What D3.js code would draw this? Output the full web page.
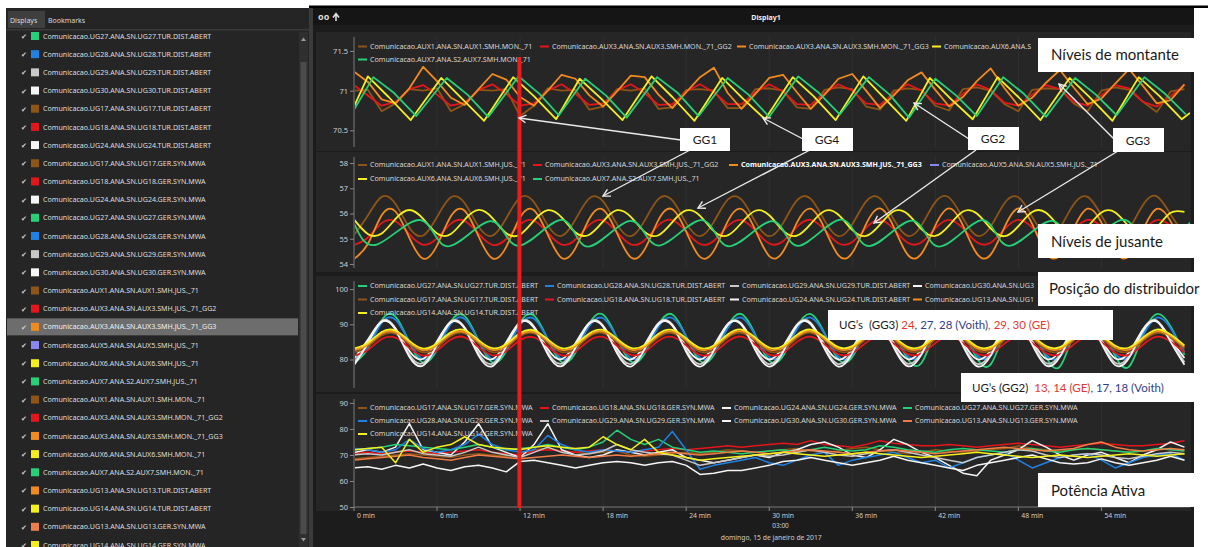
<!DOCTYPE html>
<html><head><meta charset="utf-8">
<script src="https://cdn.jsdelivr.net/npm/d3@7"></script>
<style>html,body{margin:0;padding:0;background:#fff;}svg{display:block;}</style>
</head><body>
<svg id="c" width="1208" height="547"></svg>
<script>
// ---------------- DATA ----------------
const minutes = [0,1,2,3,4,5,6,7,8,9,10,11,12,13,14,15,16,17,18,19,20,21,22,23,24,25,26,27,28,29,30,31,32,33,34,35,36,37,38,39,40,41,42,43,44,45,46,47,48,49,50,51,52,53,54,55,56,57,58,59,60];
const xTickMinutes = [0,6,12,18,24,30,36,42,48,54];
const cursorMinute = [11.95];

// Panel 1 - Níveis de montante
const monAux1 = [71.0,71.01,70.74,70.84,71.02,71.0,71.03,70.74,70.83,71.01,71.0,71.02,70.68,70.81,71.03,71.0,71.01,70.76,70.80,71.02,71.0,71.03,70.77,70.79,71.01,71.02,71.0,70.78,70.78,71.02,71.03,71.0,70.79,70.77,71.01,71.04,71.02,70.80,70.76,71.0,71.03,71.01,70.81,70.75,71.02,71.04,71.0,70.83,70.74,71.01,71.03,71.02,70.84,70.74,71.0,71.04,71.01,70.86,70.73,70.99,71.02];
const monAux3GG2 = [71.07,70.94,70.81,70.86,71.02,71.07,70.95,70.81,70.85,71.01,71.08,70.96,70.81,70.84,71.0,71.08,70.96,70.82,70.84,71.0,71.08,70.97,70.82,70.83,70.99,71.08,70.98,70.83,70.83,70.98,71.08,70.99,70.83,70.82,70.97,71.08,71.0,70.84,70.82,70.96,71.08,71.0,70.84,70.81,70.96,71.08,71.01,70.85,70.81,70.95,71.07,71.02,70.86,70.81,70.94,71.07,71.03,70.86,70.8,70.93,71.07];
const monAux3GG3 = [71.24,71.11,70.89,70.84,71.03,71.30,71.12,70.91,70.82,71.02,71.21,71.14,70.92,70.81,71.0,71.20,71.15,70.94,70.80,70.99,71.19,71.17,70.95,70.78,70.98,71.17,71.29,70.97,70.77,70.96,71.16,71.20,70.98,70.77,70.95,71.15,71.21,71.0,70.78,70.94,71.13,71.23,71.01,70.80,70.92,71.12,71.28,71.03,70.81,70.91,71.10,71.26,71.04,70.83,70.90,71.09,71.27,71.06,70.84,70.88,71.08];
const monAux6T = [0,1.0,2.5,4.1,6.3,7.8,9.4,11.5,13.0,14.6,16.3,17.8,19.4,21.5,23.0,24.6,26.6,28.1,29.7,31.7,33.2,34.8,36.8,38.3,39.9,41.6,43.1,44.7,46.5,48.0,49.6,51.7,53.2,54.8,56.7,58.2,59.8,60.4];
const monAux6V = [70.80,71.18,70.92,70.63,71.16,70.90,70.62,71.17,70.93,70.64,71.15,70.91,70.63,71.18,70.92,70.62,71.16,70.90,70.64,71.17,70.93,70.63,71.18,70.91,70.62,71.16,70.90,70.64,71.17,70.92,70.63,71.16,70.91,70.62,71.17,70.93,70.64,70.72];
const monAux7T = [0,1.4,2.9,4.5,6.7,8.2,9.7,11.9,13.4,14.8,16.7,18.2,19.7,21.9,23.4,24.9,27.0,28.5,30.0,32.1,33.6,35.1,37.2,38.7,40.1,42.0,43.5,45.0,46.9,48.4,50.0,52.1,53.6,55.1,57.1,58.6,60.1];
const monAux7V = [70.76,71.17,70.97,70.68,71.16,70.95,70.67,71.18,70.96,70.69,71.15,70.94,70.66,71.17,70.97,70.68,71.16,70.95,70.67,71.18,70.97,70.70,71.17,70.95,70.66,71.15,70.94,70.68,71.17,70.96,70.67,71.16,70.95,70.69,71.17,70.96,70.70];

// Panel 2 - Níveis de jusante
const jusAux1 = [55.15,55.92,56.66,56.38,55.44,55.13,55.86,56.64,56.41,55.48,55.12,55.81,56.63,56.45,55.53,55.11,55.76,56.6,56.48,55.57,55.1,55.72,56.58,56.52,55.62,55.1,55.67,56.55,56.55,55.67,55.1,55.62,56.52,56.58,55.72,55.1,55.57,56.48,56.6,55.76,55.11,55.53,56.45,56.63,55.81,55.12,55.48,56.41,56.64,55.87,55.13,55.44,56.37,56.66,55.92,55.15,55.4,56.34,56.68,55.96,55.16];
const jusAux3GG2 = [54.75,55.05,55.62,55.69,55.17,54.76,55.02,55.6,55.71,55.2,54.76,54.99,55.57,55.72,55.23,54.77,54.97,55.55,55.73,55.26,54.78,54.94,55.53,55.74,55.29,54.79,54.92,55.5,55.74,55.32,54.81,54.9,55.47,55.75,55.35,54.82,54.87,55.44,55.75,55.38,54.84,54.86,55.41,55.75,55.41,54.86,54.84,55.38,55.75,55.44,54.87,54.82,55.35,55.75,55.47,54.9,54.81,55.32,55.74,55.5,54.92];
const jusAux3GG3 = [54.2,54.79,55.93,56.08,55.03,54.21,54.74,55.89,56.11,55.09,54.22,54.68,55.84,56.13,55.16,54.24,54.63,55.79,56.15,55.22,54.26,54.58,55.75,56.17,55.28,54.28,54.53,55.69,56.18,55.34,54.31,54.49,55.64,56.19,55.4,54.34,54.44,55.58,56.2,55.46,54.37,54.41,55.52,56.2,55.52,54.41,54.37,55.46,56.2,55.58,54.44,54.34,55.4,56.19,55.64,54.49,54.31,55.34,56.18,55.69,54.53];
const jusAux5 = [];
const jusAux6 = [55.76,55.19,55.21,55.79,56.14,55.79,55.21,55.19,55.76,56.14,55.82,55.22,55.17,55.72,56.13,55.85,55.25,55.16,55.69,56.13,55.87,55.27,55.14,55.66,56.12,55.91,55.3,55.13,55.63,56.11,55.93,55.32,55.12,55.59,56.1,55.95,55.35,55.11,55.56,56.09,55.98,55.38,55.11,55.53,56.08,56.0,55.41,55.1,55.5,56.06,56.03,55.44,55.1,55.47,56.04,56.04,55.47,55.1,55.44,56.03,56.06];
const jusAux7T = [0,1.7,4.8,6.8,9.9,11.9,15.0,16.9,20.0,22.0,25.1,27.1,30.2,32.1,35.2,37.2,40.3,42.3,45.4,47.3,50.4,52.4,55.5,57.5,60.6];
const jusAux7V = [55.62,54.78,55.74,54.70,55.70,54.72,55.75,54.69,55.71,54.73,55.74,54.70,55.70,54.72,55.76,54.71,55.72,54.69,55.74,54.72,55.71,54.70,55.75,54.73,55.72];

// Panel 3 - Posição do distribuidor
const turUG27 = [79.0,83.1,91.1,92.2,84.8,79.1,82.8,90.8,92.3,85.3,79.2,82.4,90.5,92.5,85.7,79.3,82.0,90.2,92.7,86.1,79.4,81.7,89.8,92.8,86.5,79.6,81.3,89.4,92.9,87.0,79.7,81.0,89.1,92.9,87.4,80.0,80.7,88.7,93.0,87.8,80.2,79.0,88.2,93.0,88.2,80.4,78.6,87.8,93.0,88.7,80.7,78.0,87.4,92.9,89.1,81.0,78.0,87.0,92.9,89.4,81.3];
const turUG28 = [80.0,83.5,90.4,91.3,85.0,80.1,83.2,90.1,91.5,85.3,80.1,82.9,89.8,91.6,85.8,80.2,82.6,89.5,91.7,86.1,80.4,82.3,89.3,91.8,86.5,80.5,82.0,88.9,91.9,86.8,80.7,81.7,88.6,91.9,87.2,80.8,81.4,88.3,92.0,87.6,81.0,81.3,87.9,92.0,87.9,81.3,81.0,87.6,92.0,88.3,81.4,80.8,87.2,91.9,88.6,81.7,80.7,86.8,91.9,88.9,82.0];
const turUG29 = [79.1,85.1,91.0,88.8,81.4,79.0,84.7,90.9,89.0,81.7,78.8,84.3,90.7,89.4,82.1,78.8,83.9,90.5,89.6,82.4,78.7,83.6,90.4,89.9,82.8,78.7,83.2,90.1,90.1,83.2,78.7,82.8,89.9,90.4,83.6,78.7,82.4,89.6,90.5,83.9,78.8,82.1,89.4,90.7,84.3,78.8,81.7,89.0,90.9,84.8,79.0,81.4,88.7,91.0,85.1,79.1,81.1,88.5,91.1,85.5,79.2];
const turUG30 = [80.3,85.6,90.7,88.8,82.4,80.2,85.2,90.6,89.0,82.6,80.1,84.9,90.5,89.3,83.0,80.1,84.6,90.3,89.5,83.2,80.0,84.2,90.2,89.8,83.6,80.0,83.9,90.0,90.0,83.9,80.0,83.6,89.8,90.2,84.2,80.0,83.2,89.5,90.3,84.6,80.1,83.0,89.3,90.5,84.9,80.1,82.6,89.0,90.6,85.3,80.2,82.4,88.8,90.7,85.6,80.3,82.1,88.5,90.8,85.9,80.4];
const turUG17 = [82.0,83.7,86.8,87.3,84.3,82.0,83.5,86.7,87.4,84.5,82.1,83.3,86.6,87.4,84.7,82.1,83.2,86.5,87.5,84.9,82.2,83.1,86.3,87.5,85.0,82.2,82.9,86.2,87.5,85.2,82.3,82.8,86.0,87.6,85.4,82.4,82.7,85.9,87.6,85.5,82.5,82.6,85.7,87.6,85.7,82.6,82.5,85.5,87.6,85.9,82.7,82.4,85.4,87.6,86.0,82.8,82.3,85.2,87.5,86.2,82.9];
const turUG18 = [81.1,82.7,85.8,86.2,83.3,81.1,82.6,85.7,86.3,83.5,81.2,82.4,85.5,86.3,83.7,81.2,82.3,85.4,86.4,83.9,81.3,82.1,85.3,86.4,84.0,81.3,82.0,85.1,86.5,84.2,81.4,81.9,85.0,86.5,84.3,81.5,81.8,84.8,86.5,84.5,81.6,81.7,84.7,86.5,84.7,81.7,81.6,84.5,86.5,84.8,81.8,81.5,84.3,86.5,85.0,81.9,81.4,84.2,86.5,85.1,82.0];
const turUG24 = [78.4,84.6,90.7,88.4,80.8,78.3,84.2,90.6,88.7,81.1,78.1,83.8,90.4,89.0,81.5,78.1,83.4,90.2,89.3,81.8,78.0,83.0,90.0,89.6,82.2,78.0,82.6,89.8,89.8,82.6,78.0,82.2,89.6,90.0,83.0,78.0,81.8,89.3,90.2,83.4,78.1,81.5,89.0,90.4,83.8,78.1,81.1,88.7,90.6,84.2,78.3,80.8,88.3,90.7,84.6,78.4,80.5,88.1,90.8,85.0,78.5];
const turUG13 = [82.6,84.2,87.3,87.7,84.8,82.6,84.1,87.2,87.8,85.0,82.7,83.9,87.0,87.8,85.2,82.7,83.8,86.9,87.9,85.4,82.8,83.6,86.8,87.9,85.5,82.8,83.5,86.6,88.0,85.7,82.9,83.4,86.5,88.0,85.8,83.0,83.3,86.3,88.0,86.0,83.1,83.2,86.2,88.0,86.2,83.2,83.1,86.0,88.0,86.3,83.3,83.0,85.8,88.0,86.5,83.4,82.9,85.7,88.0,86.6,83.5];
const turUG14 = [83.1,84.7,87.8,88.2,85.3,83.1,84.6,87.7,88.3,85.5,83.2,84.4,87.5,88.3,85.7,83.2,84.3,87.4,88.4,85.9,83.3,84.1,87.3,88.4,86.0,83.3,84.0,87.1,88.5,86.2,83.4,83.9,87.0,88.5,86.3,83.5,83.8,86.8,88.5,86.5,83.6,83.7,86.7,88.5,86.7,83.7,83.6,86.5,88.5,86.8,83.8,83.5,86.3,88.5,87.0,83.9,83.4,86.2,88.5,87.1,84.0];

// Panel 4 - Potência Ativa
const gerUG17 = [68.5,69,69.5,70,70.5,70,69.5,69,70,70.5,70,69.5,70.5,72,72.5,71.5,71,70.5,71,71.5,70,69.5,70,70.5,71,70.5,71,72,71.5,71,71.5,72,72.5,71.5,71,71.5,72.5,73,72,71,70.5,71,72,71.5,71,71.5,72,72.5,73.5,72.5,72,71.5,72,72.5,72,71.5,71,71.5,72,72.5,71.5];
const gerUG18 = [70.5,71,70.5,71,71.5,71,70.5,71,71.5,72,71,70.5,70,71.5,72,71.5,71,71.5,72,71.5,71,71.5,72,72.5,72,72.5,73,73.5,73,73.5,74,74.5,74,75.5,74,73.5,73,74,75.5,74.5,74,73.5,73.5,74,73.5,73,73.5,74,74.5,74,73.5,73,73.5,74,74.5,74,73.5,73.5,74,74.5,75.5];
const gerUG24 = [71,72,71,73,82,72,71,70,75,82,73,71,69,74,82,72,70,69,70,72,71,70,71,72,69,68,67,68,69,70,69,71,72,74,75,73,70,69,72,76,74,71,69,66,63,62,68,70,72,75.5,73,70,68,70,71,69,67,70,72,75,73];
const gerUG27 = [72,72.5,73,74,73.5,73,72.5,72,73,74,73,72,72.5,73,74,73,72,73,75,79.5,76,74,76,73,72,71,71.5,71,70.5,71,71.5,72,71,72,73,72,71.5,72,73.5,73,72,71.5,71,72,72.5,72,71.5,71,72,72.5,71.5,71,72,72.5,72,71.5,71,71.5,72.5,72,71.5];
const gerUG28 = [72.5,72,71,72,76,72.5,71,72,74,78,74,72,71,72,77.5,74,72,71,72,71.5,71,72,73,79,72,64.5,66,67,68,69,67,66,68,70,71,66,68,69,70,71,69,67,68,65,67,69,70,71,68,65,67,69,70,70.5,68,65,67,69,70,70.5,68];
const gerUG29 = [70,70.5,70,71,72,70.5,70,69.5,71,73,71,70,69,71,73,71,70,70.5,71.5,74,72,71,70.5,70,68,66,67,68,69,70,69.5,70,71,72,71,70,69.5,70.5,71.5,72,71,70,69,68,67,69,70,71,72,71.5,70,69,70,70.5,70,69,68.5,69.5,70.5,71,70.5];
const gerUG30 = [65,65.5,64.5,66,65,66.5,65,64,65.5,66,65,63.5,67.5,68,67,66,65,66,67,67.5,67,66,67,67.5,66,62.5,63,64,64,65,66,67.5,68,69,68,67,66,67,68,69.5,68,67,66,65,64,66,67,68,69,70,68.5,67,66.5,67,68.5,67,66,67,68,69.5,68];
const gerUG13 = [68,68.5,69,69.5,70,69,68.5,68,69,70,69.5,69,68.5,69,69.5,70,69.5,69,69.5,70,69.5,70,70.5,71,70.5,70,70.5,71,71.5,71,70.5,71,71.5,72,71.5,71,70.5,71,71.5,72,71.5,71,70.5,71,71.5,72,72.5,73,72.5,72,71.5,72,72.5,74,75,73,72,71.5,72,72.5,72];
const gerUG14 = [72,72.5,73,67,76,71,73,74,77,74,73,72.5,72,73,73.5,73,72.5,73,77,74,72,76,71,70,69,68,68.5,69,69.5,70,70.5,71,70.5,70,69.5,70,70.5,71,70.5,70,69.5,69,69.5,70,70.5,71,70.5,70,69.5,69,69.5,70,69.5,69,69.5,70,70.5,70,69.5,70,70.5];

const listNames = [
"Comunicacao.UG27.ANA.SN.UG27.TUR.DIST.ABERT","Comunicacao.UG28.ANA.SN.UG28.TUR.DIST.ABERT",
"Comunicacao.UG29.ANA.SN.UG29.TUR.DIST.ABERT","Comunicacao.UG30.ANA.SN.UG30.TUR.DIST.ABERT",
"Comunicacao.UG17.ANA.SN.UG17.TUR.DIST.ABERT","Comunicacao.UG18.ANA.SN.UG18.TUR.DIST.ABERT",
"Comunicacao.UG24.ANA.SN.UG24.TUR.DIST.ABERT","Comunicacao.UG17.ANA.SN.UG17.GER.SYN.MWA",
"Comunicacao.UG18.ANA.SN.UG18.GER.SYN.MWA","Comunicacao.UG24.ANA.SN.UG24.GER.SYN.MWA",
"Comunicacao.UG27.ANA.SN.UG27.GER.SYN.MWA","Comunicacao.UG28.ANA.SN.UG28.GER.SYN.MWA",
"Comunicacao.UG29.ANA.SN.UG29.GER.SYN.MWA","Comunicacao.UG30.ANA.SN.UG30.GER.SYN.MWA",
"Comunicacao.AUX1.ANA.SN.AUX1.SMH.JUS._71","Comunicacao.AUX3.ANA.SN.AUX3.SMH.JUS._71_GG2",
"Comunicacao.AUX3.ANA.SN.AUX3.SMH.JUS._71_GG3","Comunicacao.AUX5.ANA.SN.AUX5.SMH.JUS._71",
"Comunicacao.AUX6.ANA.SN.AUX6.SMH.JUS._71","Comunicacao.AUX7.ANA.S2.AUX7.SMH.JUS._71",
"Comunicacao.AUX1.ANA.SN.AUX1.SMH.MON._71","Comunicacao.AUX3.ANA.SN.AUX3.SMH.MON._71_GG2",
"Comunicacao.AUX3.ANA.SN.AUX3.SMH.MON._71_GG3","Comunicacao.AUX6.ANA.SN.AUX6.SMH.MON._71",
"Comunicacao.AUX7.ANA.S2.AUX7.SMH.MON._71","Comunicacao.UG13.ANA.SN.UG13.TUR.DIST.ABERT",
"Comunicacao.UG14.ANA.SN.UG14.TUR.DIST.ABERT","Comunicacao.UG13.ANA.SN.UG13.GER.SYN.MWA",
"Comunicacao.UG14.ANA.SN.UG14.GER.SYN.MWA"];
const selectedName = "Comunicacao.AUX3.ANA.SN.AUX3.SMH.JUS._71_GG3";

// ---------------- STYLE ----------------
const C = {green:"#25d177", blue:"#1f82e3", gray:"#c8c8c8", white:"#f5f5f5", brown:"#8e5516",
  red:"#e4161b", orange:"#f28b1e", yellow:"#f4ef1d", purple:"#8a86f2", coral:"#f07d47"};
const colorOf = {
 "Comunicacao.UG27.ANA.SN.UG27.TUR.DIST.ABERT":C.green,"Comunicacao.UG28.ANA.SN.UG28.TUR.DIST.ABERT":C.blue,
 "Comunicacao.UG29.ANA.SN.UG29.TUR.DIST.ABERT":C.gray,"Comunicacao.UG30.ANA.SN.UG30.TUR.DIST.ABERT":C.white,
 "Comunicacao.UG17.ANA.SN.UG17.TUR.DIST.ABERT":C.brown,"Comunicacao.UG18.ANA.SN.UG18.TUR.DIST.ABERT":C.red,
 "Comunicacao.UG24.ANA.SN.UG24.TUR.DIST.ABERT":C.white,"Comunicacao.UG17.ANA.SN.UG17.GER.SYN.MWA":C.brown,
 "Comunicacao.UG18.ANA.SN.UG18.GER.SYN.MWA":C.red,"Comunicacao.UG24.ANA.SN.UG24.GER.SYN.MWA":C.white,
 "Comunicacao.UG27.ANA.SN.UG27.GER.SYN.MWA":C.green,"Comunicacao.UG28.ANA.SN.UG28.GER.SYN.MWA":C.blue,
 "Comunicacao.UG29.ANA.SN.UG29.GER.SYN.MWA":C.gray,"Comunicacao.UG30.ANA.SN.UG30.GER.SYN.MWA":C.white,
 "Comunicacao.AUX1.ANA.SN.AUX1.SMH.JUS._71":C.brown,"Comunicacao.AUX3.ANA.SN.AUX3.SMH.JUS._71_GG2":C.red,
 "Comunicacao.AUX3.ANA.SN.AUX3.SMH.JUS._71_GG3":C.orange,"Comunicacao.AUX5.ANA.SN.AUX5.SMH.JUS._71":C.purple,
 "Comunicacao.AUX6.ANA.SN.AUX6.SMH.JUS._71":C.yellow,"Comunicacao.AUX7.ANA.S2.AUX7.SMH.JUS._71":C.green,
 "Comunicacao.AUX1.ANA.SN.AUX1.SMH.MON._71":C.brown,"Comunicacao.AUX3.ANA.SN.AUX3.SMH.MON._71_GG2":C.red,
 "Comunicacao.AUX3.ANA.SN.AUX3.SMH.MON._71_GG3":C.orange,"Comunicacao.AUX6.ANA.SN.AUX6.SMH.MON._71":C.yellow,
 "Comunicacao.AUX7.ANA.S2.AUX7.SMH.MON._71":C.green,"Comunicacao.UG13.ANA.SN.UG13.TUR.DIST.ABERT":C.orange,
 "Comunicacao.UG14.ANA.SN.UG14.TUR.DIST.ABERT":C.yellow,"Comunicacao.UG13.ANA.SN.UG13.GER.SYN.MWA":C.coral,
 "Comunicacao.UG14.ANA.SN.UG14.GER.SYN.MWA":C.yellow};

const F = "'Noto Sans','DejaVu Sans',sans-serif";
const FA = "Lato,'Open Sans',sans-serif";
const svg = d3.select("#c");
svg.append("rect").attr("width",1208).attr("height",547).attr("fill","#fff");

// ---------------- LEFT PANEL ----------------
svg.append("rect").attr("x",6).attr("y",8).attr("width",303).attr("height",539).attr("fill","#252525");
svg.append("rect").attr("x",8).attr("y",11).attr("width",37).attr("height",17).attr("fill","#3f3f3f");
svg.append("text").attr("x",10).attr("y",22.5).text("Displays").attr("font-family",F).attr("font-size",7).attr("fill","#d8d8d8");
svg.append("text").attr("x",48).attr("y",22.5).text("Bookmarks").attr("font-family",F).attr("font-size",7).attr("fill","#d8d8d8");
svg.append("rect").attr("x",6).attr("y",29).attr("width",303).attr("height",1.5).attr("fill","#3a3a3a");
svg.append("rect").attr("x",299).attr("y",32).attr("width",9).attr("height",515).attr("fill","#2f2f2f");
svg.append("rect").attr("x",300.5).attr("y",62).attr("width",6).attr("height",472).attr("fill","#4b4b4b");
svg.append("path").attr("d","M301,41 L303.5,37.5 L306,41 Z").attr("fill","#999");
svg.append("path").attr("d","M301,538 L303.5,541.5 L306,538 Z").attr("fill","#999");
const yList = d3.scaleLinear().domain([0,28]).range([36,545]);
const rows = svg.append("g").selectAll("g").data(listNames).join("g")
  .attr("transform",(d,i)=>`translate(0,${yList(i)})`);
rows.filter(d=>d===selectedName).append("rect").attr("x",7).attr("y",-8.5).attr("width",291).attr("height",17).attr("fill","#6d6d6d");
rows.append("text").attr("x",21).attr("y",3).text("✔").attr("font-family","DejaVu Sans").attr("font-size",7).attr("fill","#cfcfcf");
rows.append("rect").attr("x",31).attr("y",-4).attr("width",8).attr("height",8).attr("fill",d=>colorOf[d]);
rows.append("text").attr("x",43).attr("y",2.6).text(d=>d).attr("font-family",F).attr("font-size",7.1)
  .attr("fill",d=>d===selectedName?"#f0f0f0":"#dedede");

// ---------------- MAIN AREA ----------------
svg.append("rect").attr("x",309).attr("y",8).attr("width",4).attr("height",539).attr("fill","#3b3b3b");
svg.append("rect").attr("x",313).attr("y",8).attr("width",881).attr("height",539).attr("fill","#1c1c1c");
svg.append("rect").attr("x",309).attr("y",5.5).attr("width",899).attr("height",2.5).attr("fill","#000");
svg.append("rect").attr("x",313).attr("y",8).attr("width",881).attr("height",17).attr("fill","#151515");
svg.append("text").attr("x",318).attr("y",20).text("oo").attr("font-family",F).attr("font-weight","bold").attr("font-size",9).attr("fill","#ddd");
svg.append("path").attr("d","M336,21 L336,14.5 M333,17.5 L336,13.5 L339,17.5").attr("stroke","#ddd").attr("stroke-width",1.6).attr("fill","none");
svg.append("text").attr("x",766).attr("y",19.5).attr("text-anchor","middle").text("Display1").attr("font-family",F).attr("font-weight","bold").attr("font-size",7).attr("fill","#eee");

const x = d3.scaleLinear().domain([0,60.4]).range([354,1190]);
const series = (name,t,v)=>({name,t,v});
const panels = [
 {top:37,bottom:147,dom:[70.29,71.676],ticks:[70.5,71,71.5],curve:d3.curveLinear,w:1.8,rowY:[46.5,59.5],legendClip:1036,
  series:[series("Comunicacao.AUX1.ANA.SN.AUX1.SMH.MON._71",minutes,monAux1),
          series("Comunicacao.AUX3.ANA.SN.AUX3.SMH.MON._71_GG2",minutes,monAux3GG2),
          series("Comunicacao.AUX3.ANA.SN.AUX3.SMH.MON._71_GG3",minutes,monAux3GG3),
          series("Comunicacao.AUX6.ANA.SN.AUX6.SMH.MON._71",monAux6T,monAux6V),
          series("Comunicacao.AUX7.ANA.S2.AUX7.SMH.MON._71",monAux7T,monAux7V)],
  legendPos:[[358,0],[540,0],[737,0],[932,0],[358,1]]},
 {top:157,bottom:268,dom:[53.84,58.24],ticks:[54,55,56,57,58],curve:d3.curveNatural,w:1.8,rowY:[165,179],legendClip:1190,
  series:[series("Comunicacao.AUX1.ANA.SN.AUX1.SMH.JUS._71",minutes,jusAux1),
          series("Comunicacao.AUX3.ANA.SN.AUX3.SMH.JUS._71_GG2",minutes,jusAux3GG2),
          series("Comunicacao.AUX3.ANA.SN.AUX3.SMH.JUS._71_GG3",minutes,jusAux3GG3),
          series("Comunicacao.AUX5.ANA.SN.AUX5.SMH.JUS._71",minutes,jusAux5),
          series("Comunicacao.AUX6.ANA.SN.AUX6.SMH.JUS._71",minutes,jusAux6),
          series("Comunicacao.AUX7.ANA.S2.AUX7.SMH.JUS._71",jusAux7T,jusAux7V)],
  legendPos:[[358,0],[533,0],[729,0],[930,0],[358,1],[533,1]], bold:2},
 {top:281,bottom:388,dom:[71.9,102.3],ticks:[80,90,100],curve:d3.curveNatural,w:1.8,rowY:[286,299.5,313],legendClip:1036,
  series:[series("Comunicacao.UG27.ANA.SN.UG27.TUR.DIST.ABERT",minutes,turUG27),
          series("Comunicacao.UG28.ANA.SN.UG28.TUR.DIST.ABERT",minutes,turUG28),
          series("Comunicacao.UG29.ANA.SN.UG29.TUR.DIST.ABERT",minutes,turUG29),
          series("Comunicacao.UG30.ANA.SN.UG30.TUR.DIST.ABERT",minutes,turUG30),
          series("Comunicacao.UG17.ANA.SN.UG17.TUR.DIST.ABERT",minutes,turUG17),
          series("Comunicacao.UG18.ANA.SN.UG18.TUR.DIST.ABERT",minutes,turUG18),
          series("Comunicacao.UG24.ANA.SN.UG24.TUR.DIST.ABERT",minutes,turUG24),
          series("Comunicacao.UG13.ANA.SN.UG13.TUR.DIST.ABERT",minutes,turUG13),
          series("Comunicacao.UG14.ANA.SN.UG14.TUR.DIST.ABERT",minutes,turUG14)],
  legendPos:[[358,0],[545,0],[730,0],[913,0],[358,1],[545,1],[730,1],[913,1],[358,2]]},
 {top:399,bottom:507,dom:[50,91.5],ticks:[50,60,70,80,90],curve:d3.curveLinear,w:1.5,rowY:[408,421,434],legendClip:1190,
  series:[series("Comunicacao.UG17.ANA.SN.UG17.GER.SYN.MWA",minutes,gerUG17),
          series("Comunicacao.UG18.ANA.SN.UG18.GER.SYN.MWA",minutes,gerUG18),
          series("Comunicacao.UG24.ANA.SN.UG24.GER.SYN.MWA",minutes,gerUG24),
          series("Comunicacao.UG27.ANA.SN.UG27.GER.SYN.MWA",minutes,gerUG27),
          series("Comunicacao.UG28.ANA.SN.UG28.GER.SYN.MWA",minutes,gerUG28),
          series("Comunicacao.UG29.ANA.SN.UG29.GER.SYN.MWA",minutes,gerUG29),
          series("Comunicacao.UG30.ANA.SN.UG30.GER.SYN.MWA",minutes,gerUG30),
          series("Comunicacao.UG13.ANA.SN.UG13.GER.SYN.MWA",minutes,gerUG13),
          series("Comunicacao.UG14.ANA.SN.UG14.GER.SYN.MWA",minutes,gerUG14)],
  legendPos:[[358,0],[540,0],[722,0],[903,0],[358,1],[540,1],[722,1],[903,1],[358,2]]}
];

const defs = svg.append("defs");
panels.forEach((p,pi)=>{
  const y = d3.scaleLinear().domain(p.dom).range([p.bottom,p.top]);
  const g = svg.append("g");
  g.append("rect").attr("x",316).attr("y",p.top-5).attr("width",875).attr("height",p.bottom-p.top+9).attr("fill","#262626");
  g.selectAll(".grid").data(xTickMinutes).join("line")
    .attr("x1",d=>x(d)).attr("x2",d=>x(d)).attr("y1",p.top).attr("y2",p.bottom)
    .attr("stroke","#343434").attr("stroke-width",0.8);
  const ax = g.append("g").attr("transform","translate(354,0)")
    .call(d3.axisLeft(y).tickValues(p.ticks).tickSize(4).tickFormat(d3.format("~g")));
  ax.select(".domain").attr("stroke","#777").attr("d",`M0,${p.top}V${p.bottom}`);
  ax.selectAll(".tick line").attr("stroke","#888");
  ax.selectAll(".tick text").attr("fill","#cfcfcf").attr("font-family",F).attr("font-size",7.5).attr("x",-6);
  defs.append("clipPath").attr("id","clip"+pi).append("rect")
    .attr("x",355).attr("y",p.top).attr("width",835).attr("height",p.bottom-p.top);
  const line = d3.line().x(d=>x(d[0])).y(d=>y(d[1])).curve(p.curve);
  g.append("g").attr("clip-path",`url(#clip${pi})`).selectAll("path").data(p.series).join("path")
    .attr("d",s=>s.v.length?line(s.v.map((v,i)=>[s.t[i],v])):null)
    .attr("fill","none").attr("stroke",s=>colorOf[s.name]).attr("stroke-width",p.w).attr("stroke-linejoin","round");
  const lg = g.append("g").selectAll("g").data(p.series).join("g")
    .attr("transform",(s,i)=>`translate(${p.legendPos[i][0]},${p.rowY[p.legendPos[i][1]]})`);
  lg.append("line").attr("x1",0).attr("x2",9).attr("y1",0).attr("y2",0).attr("stroke",s=>colorOf[s.name]).attr("stroke-width",2);
  lg.append("text").attr("x",12).attr("y",2.4).text(s=>s.name).attr("font-family",F).attr("font-size",7.1)
    .attr("font-weight",(s,i)=>p.bold===i?"bold":"normal").attr("fill",(s,i)=>p.bold===i?"#ffffff":"#d6d6d6")
    .each(function(s,i){
      // legend text that runs under an annotation box is shown only up to the box edge
      const room = p.legendClip - p.legendPos[i][0] - 12;
      let str = s.name;
      while(str.length>1 && this.getComputedTextLength()>room){ str = str.slice(0,-1); this.textContent = str; }
    });
  if(pi===3){
    svg.append("line").attr("x1",354).attr("x2",1190).attr("y1",p.bottom).attr("y2",p.bottom).attr("stroke","#777");
    const xa = svg.append("g");
    xa.selectAll("line").data(xTickMinutes).join("line").attr("x1",d=>x(d)).attr("x2",d=>x(d))
      .attr("y1",p.bottom).attr("y2",p.bottom+4).attr("stroke","#888");
    xa.selectAll("text").data(xTickMinutes).join("text").attr("x",d=>x(d)+3).attr("y",p.bottom+11)
      .text(d=>d+" min").attr("font-family",F).attr("font-size",6.8).attr("fill","#cfcfcf");
  }
});
svg.append("text").attr("x",x(30)+3).attr("y",528).text("03:00").attr("font-family",F).attr("font-size",6.5).attr("fill","#cfcfcf");
svg.append("text").attr("x",x(30)+2).attr("y",540).attr("text-anchor","middle").text("domingo, 15 de janeiro de 2017").attr("font-family",F).attr("font-size",6.8).attr("fill","#cfcfcf");

// cursor
svg.selectAll(".cursor").data(cursorMinute).join("line").attr("x1",d=>x(d)).attr("x2",d=>x(d))
  .attr("y1",57).attr("y2",508).attr("stroke","#ec1c1c").attr("stroke-width",4);

// ---------------- ANNOTATIONS ----------------
const arrows = [[681,140,519,118],[690,150,603,196],[803,139,763,118],[810,150,698,208],
                [969,139,914,103],[976,150,874,223],[1114,139,1059,84],[1118,151,1018,212]];
const ag = svg.append("g").attr("stroke","#e9e9e9").attr("stroke-width",1.4).attr("fill","none");
arrows.forEach(([x1,y1,x2,y2])=>{
  const a = Math.atan2(y2-y1,x2-x1), L=8, s=0.5;
  ag.append("line").attr("x1",x1).attr("y1",y1).attr("x2",x2).attr("y2",y2);
  ag.append("path").attr("d",`M${x2-L*Math.cos(a-s)},${y2-L*Math.sin(a-s)} L${x2},${y2} L${x2-L*Math.cos(a+s)},${y2-L*Math.sin(a+s)}`);
});
const boxes = [
 {x:1038,y:38,w:156,h:34,t:"Níveis de montante",fs:15,tx:1051,ty:60},
 {x:1038,y:224,w:156,h:34,t:"Níveis de jusante",fs:15,tx:1051,ty:246.5},
 {x:1038,y:272,w:170,h:34,t:"Posição do distribuidor",fs:15,tx:1049,ty:294},
 {x:1038,y:473,w:156,h:34,t:"Potência Ativa",fs:15,tx:1051,ty:496},
 {x:680,y:128,w:50,h:23,t:"GG1",fs:12,tx:705,ty:144,mid:1},
 {x:802,y:128,w:51,h:23,t:"GG4",fs:12,tx:827,ty:144,mid:1},
 {x:968,y:127,w:51,h:23,t:"GG2",fs:12,tx:993,ty:143,mid:1},
 {x:1113,y:128,w:51,h:24,t:"GG3",fs:12,tx:1138,ty:145,mid:1}
];
boxes.forEach(b=>{
  svg.append("rect").attr("x",b.x).attr("y",b.y).attr("width",b.w).attr("height",b.h).attr("fill","#fff");
  svg.append("text").attr("x",b.tx).attr("y",b.ty).attr("text-anchor",b.mid?"middle":"start")
    .text(b.t).attr("font-family",FA).attr("font-size",b.fs).attr("fill","#1a1a1a");
});
const rich = [
 {x:828,y:310,w:285,h:30,tx:839,ty:329,parts:[["UG’s  (GG3) ","#1a1a1a"],["24","#e8362e"],[", 27, 28 (Voith)","#2f3c8e"],[", 29, 30 (GE)","#e8362e"]]},
 {x:961,y:373,w:235,h:29,tx:972,ty:392,parts:[["UG’s (GG2)  ","#1a1a1a"],["13, 14 (GE)","#e8362e"],[", 17, 18 (Voith)","#2f3c8e"]]}
];
rich.forEach(b=>{
  svg.append("rect").attr("x",b.x).attr("y",b.y).attr("width",b.w).attr("height",b.h).attr("fill","#fff");
  const t = svg.append("text").attr("x",b.tx).attr("y",b.ty).attr("font-family",FA).attr("font-size",11.5).attr("xml:space","preserve");
  b.parts.forEach(([s,c])=>t.append("tspan").text(s).attr("fill",c));
});
</script>
</body></html>
